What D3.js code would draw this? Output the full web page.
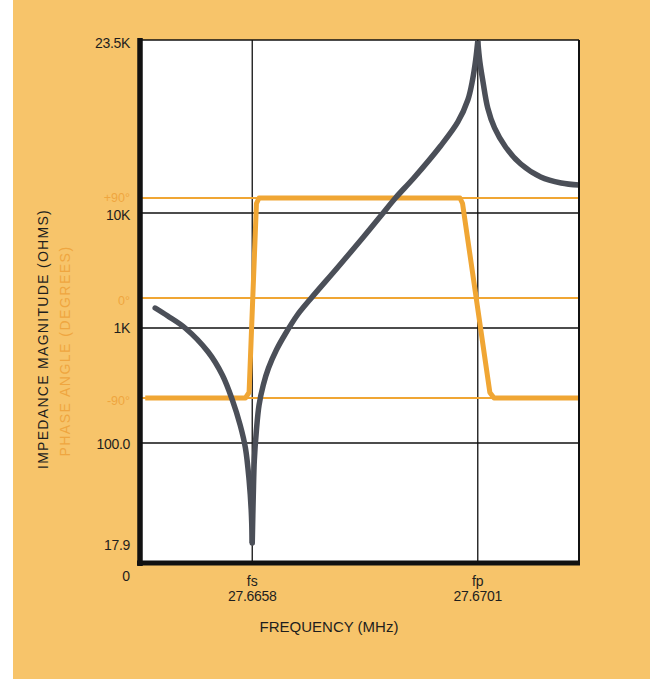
<!DOCTYPE html>
<html><head><meta charset="utf-8">
<script src="https://cdn.jsdelivr.net/npm/d3@7"></script>
<style>
html,body{margin:0;padding:0;background:#fff;}
svg{display:block;}
text{font-family:"Liberation Sans",Arial,Helvetica,sans-serif;}
</style></head>
<body>
<svg id="chart" width="657" height="679"></svg>
<script>
// ---- data ----
const freqDomain = [27.66366, 27.67203];
const impTicks = [17.9, 100, 1000, 10000, 23500];
const impTickLabels = ["17.9", "100.0", "1K", "10K", "23.5K"];
const phaseTicks = [-90, 0, 90];
const phaseTickLabels = ["-90°", "0°", "+90°"];
const xTickFreqs = [27.6658, 27.6701];
const xTickNames = ["fs", "fp"];
const xTickValues = ["27.6658", "27.6701"];

// impedance magnitude (ohms) vs frequency (MHz), three branches
const impFreq1 = [27.66395, 27.66419, 27.66452, 27.66496, 27.66523, 27.66542, 27.66557, 27.66567, 27.66574, 27.66578, 27.6658];
const impVal1  = [1492, 1271, 1000, 618, 390, 237, 143, 91.8, 52.9, 31.6, 17.9];
const impFreq2 = [27.6658, 27.66582, 27.66584, 27.66588, 27.66593, 27.66601, 27.66611, 27.66626, 27.66643, 27.66666, 27.66691,
                  27.66742, 27.66792, 27.66828, 27.66853, 27.66888, 27.66939, 27.66972, 27.66991, 27.67000, 27.67006, 27.6701];
const impVal2  = [17.9, 40.9, 74.6, 129.7, 214, 319, 449, 644, 887, 1297, 1788,
                  3325, 6184, 9802, 10775, 11900, 13950, 15720, 17530, 19360, 21390, 23500];
const impFreq3 = [27.6701, 27.67014, 27.67020, 27.67029, 27.67042, 27.67063, 27.67092, 27.67130, 27.67169, 27.67203];
const impVal3  = [23500, 21180, 19170, 16850, 15260, 13880, 12756, 11960, 11610, 11490];

// phase angle (degrees) vs frequency (MHz)
const phaseFreq = [27.66376, 27.66567, 27.66574, 27.66588, 27.66593, 27.66976, 27.66981, 27.67033, 27.67041, 27.67203];
const phaseVal  = [-90, -90, -85, 85, 90, 90, 85, -85, -90, -90];

// ---- layout ----
const svg = d3.select("#chart");
const L = 140, R = 579, T = 40, B = 563;
const bg = "#F7C46A", orange = "#F0A634", orangeText = "#EFA640", gray = "#4B4F58", ink = "#1e1e1e";

svg.append("rect").attr("x", 13).attr("y", 0).attr("width", 637).attr("height", 679).attr("fill", bg);
svg.append("rect").attr("x", L).attr("y", T).attr("width", R - L).attr("height", B - T).attr("fill", "#fff");

const x = d3.scaleLinear().domain(freqDomain).range([L, R]);
// schematic (piecewise) log axis for impedance
const yLog = d3.scaleLinear()
  .domain(impTicks.map(v => Math.log10(v)))
  .range([543, 443, 328, 213, 41]);
const y = v => yLog(Math.log10(v));
const yP = d3.scaleLinear().domain([-90, 90]).range([398, 198]);

// black gridlines
const g = svg.append("g");
[100, 1000, 10000].forEach(v => {
  g.append("line").attr("x1", L).attr("x2", R).attr("y1", y(v)).attr("y2", y(v))
    .attr("stroke", "#111").attr("stroke-width", 1.4);
});
xTickFreqs.forEach(f => {
  g.append("line").attr("x1", x(f)).attr("x2", x(f)).attr("y1", T).attr("y2", B)
    .attr("stroke", "#111").attr("stroke-width", 1.3);
});
// orange phase gridlines
phaseTicks.forEach(p => {
  g.append("line").attr("x1", L).attr("x2", R).attr("y1", yP(p)).attr("y2", yP(p))
    .attr("stroke", orange).attr("stroke-width", 2);
});

// phase curve
const phaseLine = d3.line().x(d => x(d[0])).y(d => yP(d[1])).curve(d3.curveLinear);
svg.append("path").datum(d3.zip(phaseFreq, phaseVal)).attr("d", phaseLine)
  .attr("fill", "none").attr("stroke", orange).attr("stroke-width", 5)
  .attr("stroke-linejoin", "round").attr("stroke-linecap", "butt");

// impedance curve
const impLine = d3.line().x(d => x(d[0])).y(d => y(d[1])).curve(d3.curveCatmullRom.alpha(0.5));
[[impFreq1, impVal1], [impFreq2, impVal2], [impFreq3, impVal3]].forEach(([fq, vv], i) => {
  svg.append("path").datum(d3.zip(fq, vv)).attr("d", impLine)
    .attr("fill", "none").attr("stroke", gray).attr("stroke-width", 5.5)
    .attr("stroke-linecap", i === 0 ? "round" : "butt").attr("stroke-linejoin", "round");
});

// frame
svg.append("line").attr("x1", L).attr("x2", R).attr("y1", T).attr("y2", T).attr("stroke", "#111").attr("stroke-width", 1.5);
svg.append("line").attr("x1", R).attr("x2", R).attr("y1", T).attr("y2", B).attr("stroke", "#111").attr("stroke-width", 2);
svg.append("line").attr("x1", L).attr("x2", L).attr("y1", T - 2).attr("y2", B + 3).attr("stroke", "#111").attr("stroke-width", 5.5);
svg.append("line").attr("x1", L - 3).attr("x2", R + 1).attr("y1", B).attr("y2", B).attr("stroke", "#111").attr("stroke-width", 5);

// y tick labels (impedance)
const impLabelY = [545, 444, 328, 215, 43];
impTicks.forEach((v, i) => {
  svg.append("text").attr("x", 130).attr("y", y(v) + (impLabelY[i] - yLog(Math.log10(v)))).attr("dy", "0.36em")
    .attr("text-anchor", "end").attr("font-size", 14).attr("fill", ink)
    .attr("letter-spacing", -0.3).text(impTickLabels[i]);
});
svg.append("text").attr("x", 130).attr("y", 576).attr("dy", "0.36em")
  .attr("text-anchor", "end").attr("font-size", 14).attr("fill", ink).text("0");
// phase tick labels
phaseTicks.forEach((p, i) => {
  svg.append("text").attr("x", 130).attr("y", yP(p) + (p === 90 ? -1 : 2)).attr("dy", "0.36em")
    .attr("text-anchor", "end").attr("font-size", 12.5).attr("fill", orangeText)
    .text(phaseTickLabels[i]);
});

// x tick labels
xTickFreqs.forEach((f, i) => {
  svg.append("text").attr("x", x(f)).attr("y", 581).attr("dy", "0.36em")
    .attr("text-anchor", "middle").attr("font-size", 14).attr("fill", ink).text(xTickNames[i]);
  svg.append("text").attr("x", x(f)).attr("y", 596).attr("dy", "0.36em")
    .attr("text-anchor", "middle").attr("font-size", 14).attr("fill", ink)
    .attr("letter-spacing", -0.3).text(xTickValues[i]);
});

// axis titles
svg.append("text").attr("x", 329).attr("y", 627).attr("dy", "0.36em")
  .attr("text-anchor", "middle").attr("font-size", 15).attr("fill", ink)
  .text("FREQUENCY (MHz)");
svg.append("text").attr("transform", "translate(43,339) rotate(-90)").attr("dy", "0.36em")
  .attr("text-anchor", "middle").attr("font-size", 14).attr("fill", ink).attr("letter-spacing", 1.3)
  .text("IMPEDANCE MAGNITUDE (OHMS)");
svg.append("text").attr("transform", "translate(65,351) rotate(-90)").attr("dy", "0.36em")
  .attr("text-anchor", "middle").attr("font-size", 14).attr("fill", orangeText).attr("letter-spacing", 1.5)
  .text("PHASE ANGLE (DEGREES)");
</script>
</body></html>
